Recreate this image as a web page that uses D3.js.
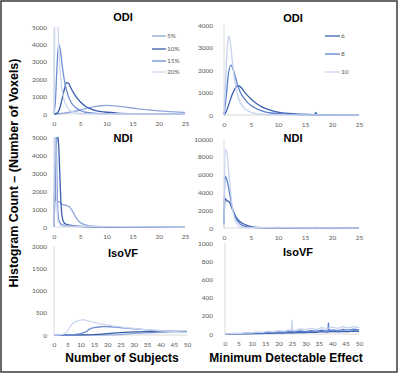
<!DOCTYPE html>
<html>
<head>
<meta charset="utf-8">
<script src="https://cdn.jsdelivr.net/npm/d3@7"></script>
<style>
  body { margin: 0; background: #fff; }
  svg { display: block; }
  .tick text { font-family: Lato, "Liberation Sans", sans-serif; font-size: 6.5px; fill: #595959; }
  .ttl { font-family: "Liberation Sans", Arial, sans-serif; font-weight: bold; fill: #000; }
  .leg { font-family: Lato, "Liberation Sans", sans-serif; font-size: 6.5px; fill: #595959; }
</style>
</head>
<body>
<div id="chart"></div>
<script>
// ---- data ----
// left column: x = number of subjects, right column: x = minimum detectable effect
const subjLabels = ["5%", "10%", "15%", "20%"];
const mdeLabels = ["6", "8", "10"];

// ODI, number of subjects
const odiSubj5 = [[0,0],[1,15],[2,50],[3,100],[4,160],[5,230],[6,310],[7,380],[8,440],[9,475],[10,490],[11,480],[12,455],[13,420],[14,380],[15,340],[16,300],[17,265],[18,235],[19,205],[20,180],[21,160],[22,140],[23,120],[24,105],[25,95]];
const odiSubj10 = [[0,0],[0.5,40],[1,250],[1.5,800],[2,1450],[2.4,1800],[2.8,1750],[3.3,1450],[4,1080],[5,700],[6,450],[7,300],[8,200],[9,140],[10,100],[12,55],[15,25],[20,10],[25,5]];
const odiSubj15 = [[0,0],[0.3,900],[0.6,2900],[0.9,4000],[1.2,3700],[1.6,2700],[2,1900],[2.5,1250],[3,820],[4,400],[5,200],[6,100],[8,40],[10,20],[15,5],[25,0]];
const odiSubj20 = [[0,0],[0.15,5600],[0.4,6500],[0.7,5600],[0.9,3800],[1.2,2300],[1.6,1300],[2,750],[2.5,400],[3,220],[4,80],[5,30],[7,10],[10,0],[25,0]];

// ODI, minimum detectable effect
const odiMde6 = [[0,0],[0.5,200],[1,550],[1.5,900],[2,1150],[2.5,1300],[3,1260],[3.5,1120],[4,960],[5,710],[6,510],[7,360],[8,260],[9,185],[10,130],[12,70],[14,40],[16.8,20],[17,120],[17.2,20],[20,10],[25,5]];
const odiMde8 = [[0,0],[0.4,800],[0.8,1800],[1.3,2220],[1.8,1950],[2.5,1350],[3,1020],[4,650],[5,420],[6,280],[7,180],[8,120],[10,60],[12,30],[15,10],[25,0]];
const odiMde10 = [[0,0],[0.3,1500],[0.6,3000],[0.9,3500],[1.2,3150],[1.6,2250],[2,1500],[2.5,900],[3,550],[4,250],[5,120],[6,60],[8,20],[10,8],[25,0]];

// NDI, number of subjects
const ndiSubj5 = [[0,1000],[0.1,2000],[0.3,1500],[1,1400],[1.5,1260],[2,1220],[2.5,1180],[3,1100],[3.5,900],[4,620],[4.5,400],[5,250],[6,120],[7,60],[8,30],[10,15],[15,5],[25,0]];
const ndiSubj10 = [[0,0],[0.3,3000],[0.6,5200],[0.9,4500],[1.1,3000],[1.3,1500],[1.6,500],[2,200],[3,100],[5,40],[8,10],[25,0]];
const ndiSubj15 = [[0,0],[0.2,4200],[0.4,5200],[0.6,2000],[0.8,600],[1.2,200],[2,80],[3,30],[25,0]];
const ndiSubj20 = [[0,0],[0.1,5500],[0.3,5500],[0.5,1500],[0.8,300],[1.5,50],[25,0]];

// NDI, minimum detectable effect
const ndiMde6 = [[0,500],[0.2,3300],[0.5,3100],[1,2900],[1.5,2200],[2,1500],[2.5,1000],[3,700],[4,350],[5,150],[6,60],[8,25],[9.8,25],[10,80],[10.2,25],[16.8,15],[17,70],[17.2,15],[25,0]];
const ndiMde8 = [[0,500],[0.2,5800],[0.5,5500],[1,4000],[1.5,2400],[2,1400],[2.5,800],[3,450],[4,150],[5,60],[10,20],[25,0]];
const ndiMde10 = [[0,0],[0.2,8800],[0.5,8500],[1,5500],[1.5,2500],[2,1000],[2.5,400],[3,150],[4,40],[25,0]];

// IsoVF, number of subjects
const isoSubj5 = [[0,0],[20,2],[25,10],[28,25],[30,35],[33,44],[35,50],[38,56],[40,60],[43,66],[45,70],[48,72],[50,75]];
const isoSubj10 = [[0,0],[10,2],[15,8],[18,20],[20,30],[22,40],[25,55],[28,65],[30,70],[35,75],[40,80],[45,80],[50,80]];
const isoSubj15 = [[0,0],[5,5],[8,15],[10,30],[12,70],[13,120],[14,150],[15,165],[17,180],[19,192],[21,185],[23,176],[25,165],[28,150],[30,140],[33,125],[36,110],[40,95],[45,80],[50,70]];
const isoSubj20 = [[0,0],[2,5],[3,15],[4,30],[5,80],[6,180],[7,260],[8,300],[9,318],[10,332],[11,348],[12,328],[13,318],[14,300],[16,272],[18,245],[20,228],[22,205],[25,182],[28,160],[30,147],[33,128],[36,116],[40,95],[45,76],[50,60]];

// IsoVF, minimum detectable effect
const isoMde6 = [[0,0],[4,2],[6,1],[8,4],[10,3],[12,7],[14,5],[16,10],[18,8],[20,13],[22,11],[24,16],[26,13],[28,19],[30,16],[32,22],[34,19],[36,25],[38,21],[40,28],[42,24],[44,30],[46,27],[48,33],[50,30]];
const isoMde8 = [[0,0],[2,2],[4,5],[6,4],[8,9],[10,7],[12,14],[14,11],[16,18],[18,15],[20,24],[22,19],[24,28],[26,23],[28,33],[30,27],[32,38],[34,31],[36,42],[38,35],[38.4,38],[38.6,120],[38.8,38],[40,46],[42,38],[44,50],[46,42],[48,53],[50,45]];
const isoMde10 = [[0,0],[2,4],[4,9],[6,6],[8,15],[10,12],[12,22],[14,18],[16,30],[18,24],[20,38],[22,32],[24,45],[24.8,40],[25,150],[25.2,42],[26,38],[28,55],[30,47],[32,62],[34,52],[36,70],[38,58],[40,75],[42,62],[44,80],[46,66],[48,82],[50,70]];

// colours
const subjColors = ["#8fa6da", "#3a5dab", "#6f8fd3", "#cdd8f0"];
const mdeColors = ["#3b60b0", "#5a80cf", "#c6d2ee"];

const width = 400, height = 374;

const svg = d3.select("#chart").append("svg")
    .attr("width", width)
    .attr("height", height);

// outer frame
svg.append("rect")
    .attr("x", 1).attr("y", 1)
    .attr("width", 396).attr("height", 371)
    .attr("fill", "none")
    .attr("stroke", "#3a3a3a")
    .attr("stroke-width", 1.5);

let clipId = 0;
function drawPanel(p) {
    const x = d3.scaleLinear().domain([0, p.xMax]).range([p.x0, p.x1]);
    const y = d3.scaleLinear().domain([0, p.yMax]).range([p.y0, p.y1]);
    const g = svg.append("g");

    // axes lines
    g.append("line")
        .attr("x1", p.x0).attr("x2", p.x1).attr("y1", p.y0).attr("y2", p.y0)
        .attr("stroke", "#d9d9d9").attr("stroke-width", 1);
    g.append("line")
        .attr("x1", p.x0).attr("x2", p.x0).attr("y1", p.y0).attr("y2", p.y1)
        .attr("stroke", "#d9d9d9").attr("stroke-width", 1);

    const yAxis = g.append("g")
        .attr("transform", `translate(${p.x0},0)`)
        .call(d3.axisLeft(y).tickValues(d3.range(0, p.yMax + 1, p.yStep)).tickSize(0).tickPadding(p.yPad).tickFormat(d3.format("d")));
    yAxis.select(".domain").remove();

    const xAxis = g.append("g")
        .attr("transform", `translate(0,${p.y0})`)
        .call(d3.axisBottom(x).tickValues(d3.range(0, p.xMax + 1, 5)).tickSize(0).tickPadding(7));
    xAxis.select(".domain").remove();

    // clip so spikes stop at the top of the axis
    const id = "clip" + (clipId++);
    g.append("clipPath").attr("id", id).append("rect")
        .attr("x", p.x0 - 1).attr("y", p.y1)
        .attr("width", p.x1 - p.x0 + 2).attr("height", p.y0 - p.y1 + 1);

    const line = d3.line()
        .x(d => x(d[0]))
        .y(d => y(d[1]))
        .curve(p.curve || d3.curveMonotoneX);

    const lines = g.append("g").attr("clip-path", `url(#${id})`);
    p.series.forEach((s, i) => {
        lines.append("path")
            .datum(s)
            .attr("fill", "none")
            .attr("stroke", p.colors[i])
            .attr("stroke-width", 1.3)
            .attr("stroke-linejoin", "round")
            .attr("d", line);
    });

    g.append("text")
        .attr("class", "ttl")
        .attr("x", p.titleX).attr("y", p.titleY)
        .attr("text-anchor", "middle")
        .style("font-size", "11px")
        .text(p.title);
}

// left column
drawPanel({ title: "ODI", titleX: 123, titleY: 21, x0: 54, x1: 185, xMax: 25, y0: 114, y1: 27, yMax: 5000, yStep: 1000, yPad: 7,
    series: [odiSubj5, odiSubj10, odiSubj15, odiSubj20], colors: subjColors });
drawPanel({ title: "NDI", titleX: 123, titleY: 142, x0: 54, x1: 185, xMax: 25, y0: 227, y1: 137, yMax: 5000, yStep: 1000, yPad: 7,
    series: [ndiSubj5, ndiSubj10, ndiSubj15, ndiSubj20], colors: subjColors });
drawPanel({ title: "IsoVF", titleX: 123, titleY: 257, x0: 54, x1: 187, xMax: 50, y0: 335, y1: 246, yMax: 2000, yStep: 500, yPad: 7,
    series: [isoSubj5, isoSubj10, isoSubj15, isoSubj20], colors: subjColors, curve: d3.curveLinear });

// right column
drawPanel({ title: "ODI", titleX: 293, titleY: 22, x0: 224, x1: 359, xMax: 25, y0: 115, y1: 25, yMax: 4000, yStep: 1000, yPad: 11,
    series: [odiMde6, odiMde8, odiMde10], colors: mdeColors });
drawPanel({ title: "NDI", titleX: 293, titleY: 142, x0: 224, x1: 359, xMax: 25, y0: 228, y1: 139, yMax: 10000, yStep: 2000, yPad: 11,
    series: [ndiMde6, ndiMde8, ndiMde10], colors: mdeColors });
drawPanel({ title: "IsoVF", titleX: 298, titleY: 256, x0: 225, x1: 359, xMax: 50, y0: 334, y1: 243, yMax: 1000, yStep: 200, yPad: 12,
    series: [isoMde6, isoMde8, isoMde10], colors: mdeColors, curve: d3.curveLinear });

// legends
const legL = svg.append("g");
subjLabels.forEach((t, i) => {
    const yy = [36, 49, 61, 72][i];
    legL.append("line").attr("x1", 152).attr("x2", 166).attr("y1", yy).attr("y2", yy)
        .attr("stroke", subjColors[i]).attr("stroke-width", 1.3);
    legL.append("text").attr("class", "leg").attr("x", 167).attr("y", yy + 2.3).text(t);
});
const legR = svg.append("g");
mdeLabels.forEach((t, i) => {
    const yy = [36, 54, 72][i];
    legR.append("line").attr("x1", 325).attr("x2", 340).attr("y1", yy).attr("y2", yy)
        .attr("stroke", mdeColors[i]).attr("stroke-width", 1.3);
    legR.append("text").attr("class", "leg").attr("x", 341).attr("y", yy + 2.3).text(t);
});

// axis titles
svg.append("text").attr("class", "ttl")
    .attr("x", 122).attr("y", 362)
    .attr("text-anchor", "middle").style("font-size", "12px")
    .text("Number of Subjects");
svg.append("text").attr("class", "ttl")
    .attr("x", 286).attr("y", 362)
    .attr("text-anchor", "middle").style("font-size", "12px")
    .text("Minimum Detectable Effect");
svg.append("text").attr("class", "ttl")
    .attr("transform", "translate(18,173) rotate(-90)")
    .attr("text-anchor", "middle").style("font-size", "12.5px")
    .text("Histogram Count – (Number of Voxels)");
</script>
</body>
</html>
